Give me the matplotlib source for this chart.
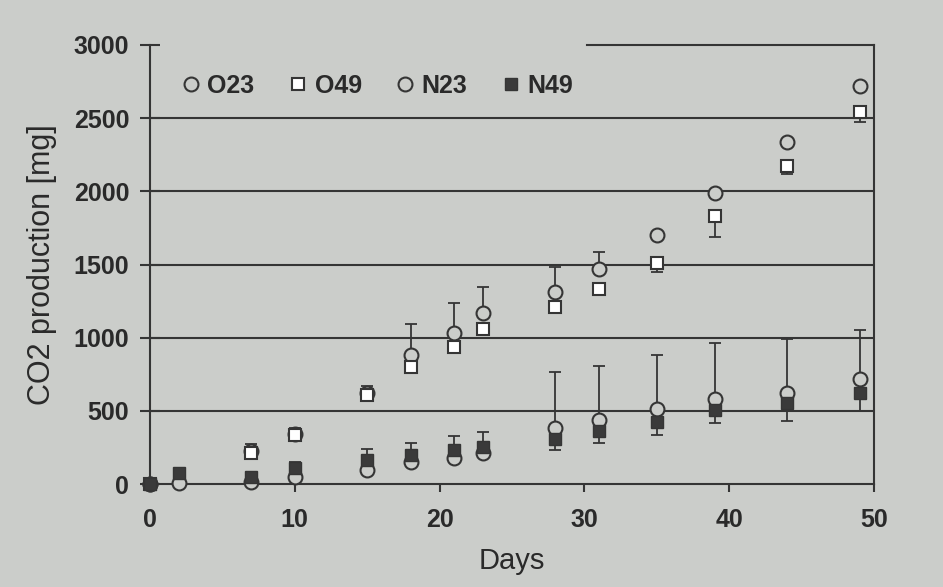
import matplotlib
matplotlib.use('Agg')
import matplotlib.pyplot as plt
import numpy as np
from matplotlib.lines import Line2D

days = [0, 2, 7, 10, 15, 18, 21, 23, 28, 31, 35, 39, 44, 49]

o23 = [0, np.nan, 225, 345, 622, 880, 1035, 1170, 1315, 1468, 1700, 1988, 2337, 2722]
o23_err = [0, 0, 50, 40, 45, 215, 205, 175, 170, 115, 20, 10, 10, 10]

o49 = [0, np.nan, 210, 335, 609, 802, 939, 1058, 1208, 1332, 1510, 1833, 2175, 2542]
o49_err = [0, 0, 10, 10, 10, 10, 10, 10, 10, 10, 58, 148, 55, 68]

n23 = [0, 7, 16, 50, 96, 153, 176, 210, 381, 438, 511, 581, 625, 716]
n23_err = [0, 0, 10, 100, 144, 125, 155, 143, 387, 369, 371, 381, 367, 337]

n49 = [0, 75, 50, 110, 164, 198, 233, 255, 306, 362, 426, 506, 552, 620]
n49_err = [0, 0, 10, 10, 10, 10, 10, 10, 73, 79, 91, 87, 119, 119]

labels = ['O23', 'O49', 'N23', 'N49']

bg = '#cbcdca'
ink = '#353535'

plt.rcParams['font.family'] = ['Liberation Sans', 'DejaVu Sans']

fig = plt.figure(figsize=(9.43, 5.87), dpi=100, facecolor=bg)
ax = fig.add_axes([150/943, 103/587, 724/943, 439/587], facecolor=bg)

for v in [500, 1000, 1500, 2000, 2500]:
    ax.axhline(v, color=ink, lw=1.5, zorder=1)

ekw = dict(fmt='none', ecolor=ink, elinewidth=1.3, capsize=4.5, capthick=1.3, zorder=2)

# O23: open circle, error bar upward
ax.errorbar(days, o23, yerr=[np.zeros(len(days)), o23_err], **ekw)
ax.plot(days, o23, 'o', ms=10, mfc=bg, mec=ink, mew=1.5, zorder=3, clip_on=False)
# O49: white square, error bar downward
ax.errorbar(days, o49, yerr=[o49_err, np.zeros(len(days))], **ekw)
ax.plot(days, o49, 's', ms=9, mfc='white', mec=ink, mew=1.5, zorder=4, clip_on=False)
# N23: open circle, error bar upward
ax.errorbar(days, n23, yerr=[np.zeros(len(days)), n23_err], **ekw)
ax.plot(days, n23, 'o', ms=10, mfc=bg, mec=ink, mew=1.5, zorder=5, clip_on=False)
# N49: filled square, error bar downward
ax.errorbar(days, n49, yerr=[n49_err, np.zeros(len(days))], **ekw)
ax.plot(days, n49, 's', ms=9, mfc='#3a3a3a', mec=ink, mew=1.0, zorder=6, clip_on=False)

ax.set_xlim(0, 50)
ax.set_ylim(0, 3000)
ax.set_xticks([0, 10, 20, 30, 40, 50])
ax.set_yticks([0, 500, 1000, 1500, 2000, 2500, 3000])

for s in ['left', 'bottom', 'right', 'top']:
    ax.spines[s].set_color(ink)
    ax.spines[s].set_linewidth(1.5)
ax.spines['top'].set_bounds(30.2, 50)

ax.tick_params(axis='x', direction='out', length=6, width=1.5, color=ink, pad=11,
               labelsize=18, labelcolor='#2a2a2a')
ax.tick_params(axis='y', direction='inout', length=14, width=1.5, color=ink, pad=8,
               labelsize=18, labelcolor='#2a2a2a')
for t in ax.get_xticklabels() + ax.get_yticklabels():
    t.set_fontweight('bold')

ax.set_xlabel('Days', fontsize=21, color='#2a2a2a', labelpad=11)
ax.set_ylabel('CO2 production [mg]', fontsize=22, color='#2a2a2a', labelpad=12)

handles = [
    Line2D([], [], ls='none', marker='o', ms=10, mfc=bg, mec=ink, mew=1.5),
    Line2D([], [], ls='none', marker='s', ms=9, mfc='white', mec=ink, mew=1.5),
    Line2D([], [], ls='none', marker='o', ms=10, mfc=bg, mec=ink, mew=1.5),
    Line2D([], [], ls='none', marker='s', ms=9, mfc='#3a3a3a', mec=ink, mew=1.0),
]
leg = ax.legend(handles, labels, loc='center left', bbox_to_anchor=(0.012, 0.907), ncol=4,
                frameon=False, handlelength=0.8, handletextpad=0.25, columnspacing=1.35,
                prop={'size': 18, 'weight': 'bold'})
for t in leg.get_texts():
    t.set_color('#2a2a2a')

fig.savefig('out.png', dpi=100, facecolor=bg)
